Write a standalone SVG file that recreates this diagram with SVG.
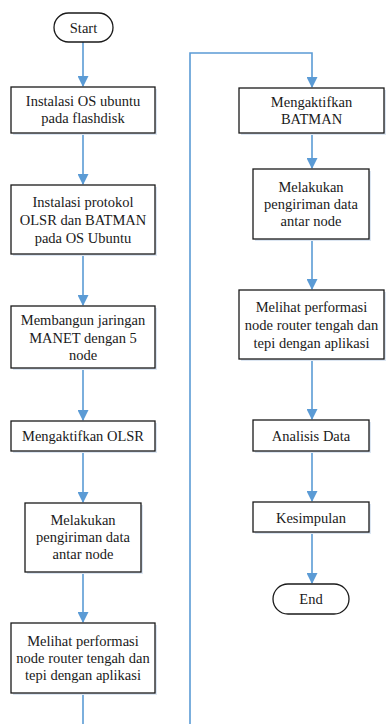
<svg xmlns="http://www.w3.org/2000/svg" width="386" height="724" viewBox="0 0 386 724">
<style>
.box{fill:#fff;stroke:#1a1a1a;stroke-width:1.3}
.sh{fill:#dce6f2;stroke:none}
.t{font-size:14.5px;fill:#1a1a1a;text-anchor:middle}
.c{fill:none;stroke:#5b9bd5;stroke-width:1.6}
</style>
<defs>
<marker id="a" markerWidth="11" markerHeight="11" refX="10" refY="5.5" orient="auto" markerUnits="userSpaceOnUse">
<path d="M0,0 L11,5.5 L0,11 Z" fill="#5b9bd5"/>
</marker>
</defs>
<rect width="386" height="724" fill="#fff"/>
<g id="connectors">
<line class="c" x1="83" y1="42" x2="83" y2="86" marker-end="url(#a)"/>
<line class="c" x1="83" y1="133" x2="83" y2="184" marker-end="url(#a)"/>
<line class="c" x1="83" y1="254" x2="83" y2="305" marker-end="url(#a)"/>
<line class="c" x1="83" y1="368" x2="83" y2="420" marker-end="url(#a)"/>
<line class="c" x1="83" y1="451" x2="83" y2="502" marker-end="url(#a)"/>
<line class="c" x1="83" y1="572" x2="83" y2="622" marker-end="url(#a)"/>
<line class="c" x1="83" y1="693" x2="83" y2="724"/>
<path class="c" d="M190,724 L190,53 L312,53 L312,87" marker-end="url(#a)"/>
<line class="c" x1="312" y1="133" x2="312" y2="168" marker-end="url(#a)"/>
<line class="c" x1="312" y1="239" x2="312" y2="289" marker-end="url(#a)"/>
<line class="c" x1="312" y1="359" x2="312" y2="419" marker-end="url(#a)"/>
<line class="c" x1="312" y1="451" x2="312" y2="501" marker-end="url(#a)"/>
<line class="c" x1="312" y1="532" x2="312" y2="583" marker-end="url(#a)"/>
</g>
<g font-family="Liberation Serif, Times New Roman, DejaVu Serif, serif">
<g id="start">
<rect class="box" x="54" y="13" width="59" height="29" rx="14.5"/>
<text class="t" x="83.5" y="33">Start</text>
</g>
<g id="n1">
<rect class="sh" x="13" y="89" width="144" height="46"/>
<rect class="box" x="11" y="87" width="144" height="46"/>
<text class="t" x="83" y="106">Instalasi OS ubuntu</text>
<text class="t" x="83" y="123">pada flashdisk</text>
</g>
<g id="n2">
<rect class="sh" x="13" y="187" width="144" height="69"/>
<rect class="box" x="11" y="185" width="144" height="69"/>
<text class="t" x="83" y="207">Instalasi protokol</text>
<text class="t" x="83" y="225">OLSR dan BATMAN</text>
<text class="t" x="83" y="243">pada OS Ubuntu</text>
</g>
<g id="n3">
<rect class="sh" x="13" y="308" width="144" height="62"/>
<rect class="box" x="11" y="306" width="144" height="62"/>
<text class="t" x="83" y="325">Membangun jaringan</text>
<text class="t" x="83" y="343">MANET dengan 5</text>
<text class="t" x="83" y="360">node</text>
</g>
<g id="n4">
<rect class="sh" x="13" y="423" width="144" height="30"/>
<rect class="box" x="11" y="421" width="144" height="30"/>
<text class="t" x="83" y="441">Mengaktifkan OLSR</text>
</g>
<g id="n5">
<rect class="sh" x="27" y="505" width="116" height="69"/>
<rect class="box" x="25" y="503" width="116" height="69"/>
<text class="t" x="83" y="525">Melakukan</text>
<text class="t" x="83" y="542">pengiriman data</text>
<text class="t" x="83" y="559">antar node</text>
</g>
<g id="n6">
<rect class="sh" x="13" y="625" width="144" height="70"/>
<rect class="box" x="11" y="623" width="144" height="70"/>
<text class="t" x="83" y="646">Melihat performasi</text>
<text class="t" x="83" y="663">node router tengah dan</text>
<text class="t" x="83" y="680">tepi dengan aplikasi</text>
</g>
<g id="n7">
<rect class="sh" x="241" y="90" width="145" height="45"/>
<rect class="box" x="239" y="88" width="145" height="45"/>
<text class="t" x="311.5" y="107">Mengaktifkan</text>
<text class="t" x="311.5" y="124">BATMAN</text>
</g>
<g id="n8">
<rect class="sh" x="255" y="171" width="116" height="70"/>
<rect class="box" x="253" y="169" width="116" height="70"/>
<text class="t" x="311" y="192">Melakukan</text>
<text class="t" x="311" y="209">pengiriman data</text>
<text class="t" x="311" y="226">antar node</text>
</g>
<g id="n9">
<rect class="sh" x="241" y="292" width="145" height="69"/>
<rect class="box" x="239" y="290" width="145" height="69"/>
<text class="t" x="311.5" y="312">Melihat performasi</text>
<text class="t" x="311.5" y="330">node router tengah dan</text>
<text class="t" x="311.5" y="348">tepi dengan aplikasi</text>
</g>
<g id="n10">
<rect class="sh" x="255" y="422" width="116" height="31"/>
<rect class="box" x="253" y="420" width="116" height="31"/>
<text class="t" x="311" y="441">Analisis Data</text>
</g>
<g id="n11">
<rect class="sh" x="255" y="504" width="116" height="30"/>
<rect class="box" x="253" y="502" width="116" height="30"/>
<text class="t" x="311" y="523">Kesimpulan</text>
</g>
<g id="end">
<rect class="box" x="273" y="584" width="76" height="30" rx="15"/>
<text class="t" x="311" y="604">End</text>
</g>
</g>
</svg>
